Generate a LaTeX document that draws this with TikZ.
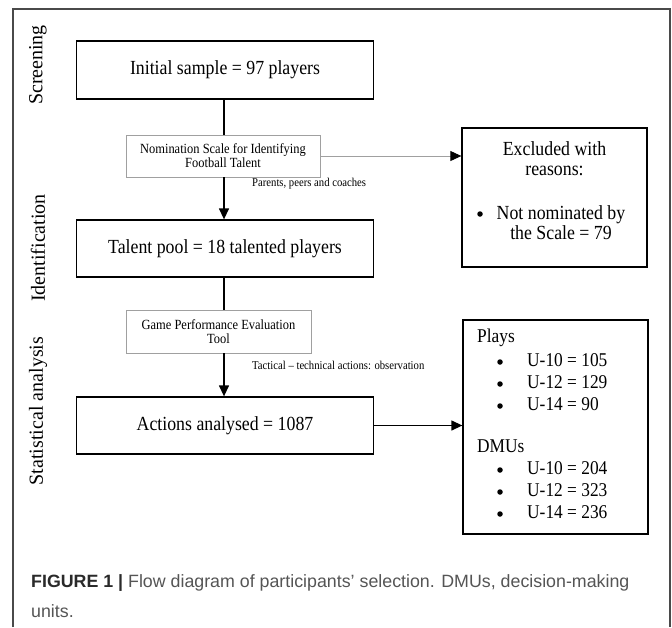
\documentclass[tikz,border=0pt]{standalone}
\usepackage{fontspec}
\usetikzlibrary{arrows.meta,calc}
\newfontfamily\diagf{Liberation Serif}[FakeStretch=0.89]
\newfontfamily\rotf{Liberation Serif}
\newfontfamily\capf{Liberation Sans}
\definecolor{framegray}{HTML}{4A4A4A}
\definecolor{boxgray}{HTML}{A0A0A0}
\definecolor{capgray}{HTML}{555555}
\definecolor{capdark}{HTML}{2A2A2A}
\begin{document}
\begin{tikzpicture}[x=1pt,y=-1pt,
  mainbox/.style={draw=black, line width=1.3pt, minimum width=297pt, inner sep=0pt, font=\diagf\fontsize{20}{22}\selectfont},
  toolbox/.style={draw=boxgray, line width=0.8pt, inner sep=0pt, align=center, font=\diagf\fontsize{14}{14}\selectfont},
  sidebox/.style={draw=black, line width=1.3pt, minimum width=185pt, inner sep=0pt},
  note/.style={font=\diagf\fontsize{12}{12}\selectfont, inner sep=0pt, anchor=west},
  phase/.style={rotate=90, font=\rotf\fontsize{20}{22}\selectfont, inner sep=0pt},
  body/.style={font=\diagf\fontsize{20}{20}\selectfont, inner sep=0pt},
  listtxt/.style={font=\diagf\fontsize{19.5}{20}\selectfont, inner sep=0pt, anchor=west},
  dot/.style={circle, fill=black, inner sep=0pt, minimum size=5.5pt},
  conn/.style={line width=1.3pt},
  flow/.style={line width=1.3pt, -{Triangle[length=11pt,width=10pt]}},
  grayflow/.style={draw=boxgray, line width=0.9pt, -{Triangle[length=11pt,width=10pt,color=black]}},
  capfont/.style={font=\capf\fontsize{17.8}{20}\selectfont, inner sep=0pt, anchor=west}
]
\useasboundingbox (0,0) rectangle (672,627);
\fill[white] (0,0) rectangle (672,627);
\draw[framegray, line width=1.2pt] (13,627) -- (13,9) -- (670,9) -- (670,627);

% phase labels
\node[phase] (ph1) at (38,65) {Screening};
\node[phase] (ph2) at (38,248) {Identification};
\node[phase] (ph3) at (38,411) {Statistical analysis};

% main column
\node[mainbox, minimum height=58pt] (b1) at (225,70) {Initial sample = 97 players};
\node[toolbox, minimum width=194pt, minimum height=42pt] (nom) at (223,156) {Nomination Scale for Identifying\\Football Talent};
\node[mainbox, minimum height=57pt] (b2) at (225,248.5) {Talent pool = 18 talented players};
\node[toolbox, minimum width=185pt, minimum height=43pt] (gpe) at (218.5,331.5) {Game Performance Evaluation\\Tool};
\node[mainbox, minimum height=57pt] (b3) at (225,425.5) {Actions analysed = 1087};

\node[note] (par) at (252,184) {Parents, peers and coaches};
\node[note] (tac) at (252,365) {Tactical – technical actions: observation};

% side boxes
\node[sidebox, minimum height=139pt] (excl) at (554.5,197.5) {};
\node[sidebox, minimum height=214pt] (plays) at (555.5,427) {};

% excluded text
\node[body, align=center] (ex1) at (554.5,159) {Excluded with\\reasons:};
\node[dot] (exb) at (480,214) {};
\node[body, align=center] (ex3) at (561,223) {Not nominated by\\the Scale = 79};

% plays / DMUs text
\node[listtxt] (pl) at (477,338) {Plays};
\node[dot] (pb1) at (500,362) {};
\node[listtxt] (p1) at (527,360) {U-10 = 105};
\node[dot] (pb2) at (500,384) {};
\node[listtxt] (p2) at (527,382) {U-12 = 129};
\node[dot] (pb3) at (500,406) {};
\node[listtxt] (p3) at (527,404) {U-14 = 90};
\node[listtxt] (dm) at (477,446) {DMUs};
\node[dot] (db1) at (500,470) {};
\node[listtxt] (d1) at (527,468) {U-10 = 204};
\node[dot] (db2) at (500,492) {};
\node[listtxt] (d2) at (527,490) {U-12 = 323};
\node[dot] (db3) at (500,514) {};
\node[listtxt] (d3) at (527,512) {U-14 = 236};

% connectors
\coordinate (sx) at (224,0);
\draw[conn] (b1.south -| sx) -- (nom.north -| sx);
\draw[flow] (nom.south -| sx) -- (b2.north -| sx);
\draw[conn] (b2.south -| sx) -- (gpe.north -| sx);
\draw[flow] (gpe.south -| sx) -- (b3.north -| sx);
\draw[grayflow] (nom.east) -- (nom.east -| excl.west);
\draw[flow] (b3.east) -- (b3.east -| plays.west);

% caption
\node[capfont] (cap1) at (31,583) {\textcolor{capdark}{\bfseries FIGURE 1 |} \textcolor{capgray}{Flow diagram of participants’ selection. DMUs, decision-making}};
\node[capfont] (cap2) at (31,611) {\textcolor{capgray}{units.}};
\end{tikzpicture}
\end{document}
